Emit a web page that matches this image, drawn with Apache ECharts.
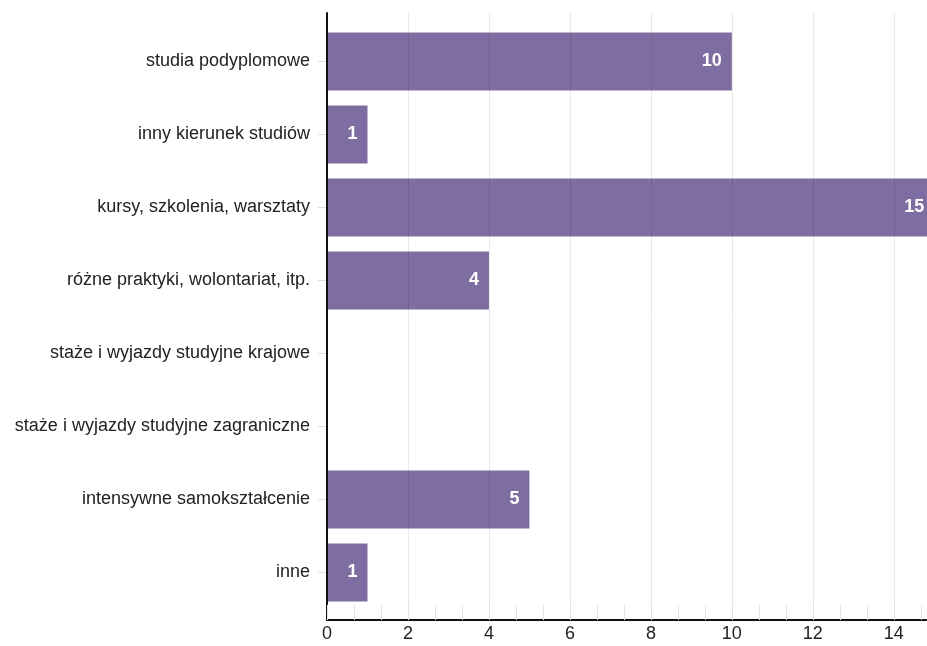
<!DOCTYPE html>
<html>
<head>
<meta charset="utf-8">
<style>
  html, body { margin: 0; padding: 0; background: #fff; }
  #chart { width: 927px; height: 646px; }
</style>
<script src="https://cdn.jsdelivr.net/npm/echarts@6/dist/echarts.min.js"></script>
</head>
<body>
<div id="chart"></div>
<script>
var categories = [
  'studia podyplomowe',
  'inny kierunek studiów',
  'kursy, szkolenia, warsztaty',
  'różne praktyki, wolontariat, itp.',
  'staże i wyjazdy studyjne krajowe',
  'staże i wyjazdy studyjne zagraniczne',
  'intensywne samokształcenie',
  'inne'
]; // kategorie
var counts = [10, 1, 15, 4, 0, 0, 5, 1]; // liczba odpowiedzi
var xMax = 14.82, xStep = 2; // os urwana przy prawej krawedzi

var chart = echarts.init(document.getElementById('chart'));
// grid 0 = osie i siatka, grid 1 = slupki (z odstepem od gory i dolu)
chart.setOption({
  animation: false,
  textStyle: { fontFamily: 'Liberation Sans, Arial, sans-serif' },
  grid: [
    { left: 327, right: 0, top: 13, bottom: 26 },
    { left: 327, right: 0, top: 25, bottom: 37 }
  ],
  xAxis: [{
    gridIndex: 0, type: 'value', min: 0, max: xMax, interval: xStep, z: 3,
    axisLine: { show: true, lineStyle: { color: '#111', width: 2 } },
    axisTick: { show: true, inside: true, length: 15, lineStyle: { color: '#e4e4e4' } },
    minorTick: { show: true, splitNumber: 3, length: 15, lineStyle: { color: '#e4e4e4' } },
    splitLine: { show: true, showMaxLine: false, lineStyle: { color: 'rgba(0,0,0,0.09)', width: 1 } },
    axisLabel: { color: '#222', fontSize: 18, margin: 5, showMaxLabel: false }
  }, {
    gridIndex: 1, type: 'value', min: 0, max: xMax, show: false
  }],
  yAxis: [{
    gridIndex: 0, type: 'value', min: 0, max: 1, z: 3,
    axisLine: { show: true, lineStyle: { color: '#111', width: 2 } },
    axisTick: { show: false }, axisLabel: { show: false }, splitLine: { show: false }
  }, {
    gridIndex: 1, type: 'category', data: categories, inverse: true,
    axisLine: { show: false },
    axisTick: { show: true, alignWithLabel: true, length: 9, lineStyle: { color: '#e0e0e0' } },
    axisLabel: { color: '#222', fontSize: 18, margin: 17 }
  }],
  series: [{
    type: 'bar', xAxisIndex: 1, yAxisIndex: 1, data: counts, barCategoryGap: '20.5%',
    clip: false,
    itemStyle: { color: '#7e6da0' },
    label: {
      show: true, position: 'insideRight', distance: 10,
      color: '#fff', fontWeight: 'bold', fontSize: 18,
      formatter: function (p) { return p.value ? p.value : ''; }
    }
  }]
});
</script>
</body>
</html>
